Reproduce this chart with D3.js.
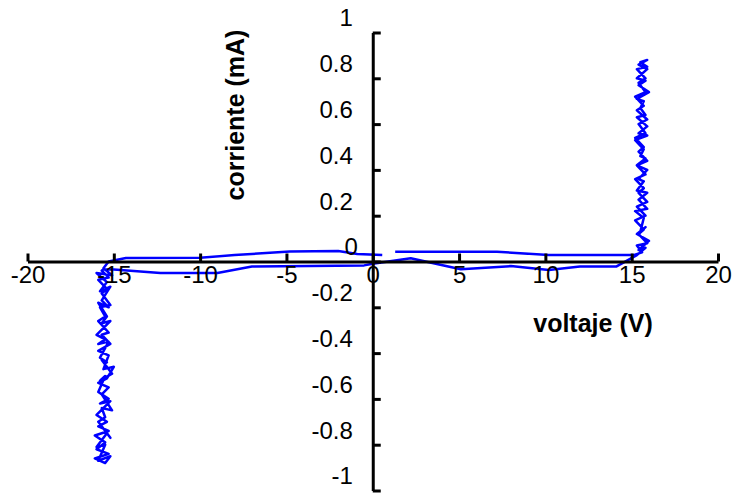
<!DOCTYPE html>
<html>
<head>
<meta charset="utf-8">
<script src="https://cdn.jsdelivr.net/npm/d3@7"></script>
<style>
  html, body { margin: 0; padding: 0; background: #fff; }
  svg { display: block; font-family: Arial, "Liberation Sans", sans-serif; }
</style>
</head>
<body>
<svg id="chart" width="733" height="493"></svg>
<script>
// ---- Data (voltage V, current mA) ----
const xTicks = [-20, -15, -10, -5, 0, 5, 10, 15, 20];
const yTicks = [-1, -0.8, -0.6, -0.4, -0.2, 0, 0.2, 0.4, 0.6, 0.8, 1];
const xTitle = "voltaje (V)";
const yTitle = "corriente (mA)";

// upper branch, negative side (traced right -> left)
const upperNeg = [[0.55,0.028],[-0.9,0.033],[-2,0.046],[-4.8,0.044],[-8,0.028],[-10,0.016],[-14.3,0.015],[-15.3,0.0]];
// breakdown region, negative side (down then up)
const vertNeg = [[-15.6,-0.03],[-15.1,-0.06],[-16.0,-0.05],[-15.4,-0.09],[-15.8,-0.13],[-15.2,-0.11],[-15.7,-0.17],[-15.3,-0.20],[-15.9,-0.18],[-15.4,-0.24],[-15.7,-0.27],[-15.2,-0.26],[-16.0,-0.32],[-15.5,-0.34],[-15.9,-0.36],[-15.3,-0.35],[-15.8,-0.42],[-15.4,-0.44],[-15.7,-0.43],[-15.1,-0.49],[-15.8,-0.52],[-15.5,-0.50],[-15.9,-0.57],[-15.3,-0.60],[-15.8,-0.62],[-15.2,-0.61],[-16.0,-0.67],[-15.4,-0.70],[-15.9,-0.72],[-15.3,-0.74],[-16.1,-0.76],[-15.5,-0.79],[-16.0,-0.82],[-15.3,-0.84],[-16.1,-0.86],[-15.5,-0.88],
  [-15.2,-0.85],[-15.9,-0.87],[-15.5,-0.80],[-16.0,-0.81],[-15.4,-0.75],[-15.2,-0.77],[-15.9,-0.70],[-15.5,-0.68],[-15.7,-0.64],[-15.1,-0.65],[-15.7,-0.58],[-15.3,-0.55],[-15.9,-0.53],[-15.4,-0.51],[-15.0,-0.46],[-15.6,-0.47],[-15.3,-0.41],[-15.9,-0.39],[-15.2,-0.36],[-15.7,-0.32],[-15.3,-0.31],[-15.9,-0.26],[-15.5,-0.24],[-15.8,-0.20],[-15.2,-0.19],[-15.7,-0.14],[-15.4,-0.12],[-15.9,-0.08],[-15.3,-0.07],[-15.7,-0.04]];
// lower branch (traced left -> right)
const lowerBranch = [[-15.6,-0.035],[-15.0,-0.035],[-12.3,-0.05],[-9,-0.05],[-7,-0.022],[-0.5,-0.017],[0,-0.01],[2.2,0.014],[5.1,-0.034],[8,-0.02],[10.2,-0.037],[12,-0.022],[14.1,-0.022],[15.3,0.028]];
// breakdown region, positive side (up then down)
const vertPos = [[15.8,0.06],[15.4,0.05],[16.0,0.09],[15.3,0.12],[15.8,0.15],[15.5,0.13],[15.7,0.19],[15.2,0.22],[15.9,0.23],[15.4,0.27],[15.9,0.30],[15.3,0.31],[15.7,0.35],[15.4,0.36],[15.9,0.40],[15.3,0.42],[15.8,0.45],[15.5,0.46],[15.7,0.49],[15.2,0.53],[15.9,0.55],[15.4,0.56],[15.9,0.59],[15.3,0.63],[15.8,0.64],[15.5,0.67],[15.7,0.70],[15.3,0.71],[16.0,0.74],[15.4,0.77],[15.8,0.79],[15.3,0.80],[15.9,0.84],[15.4,0.86],[15.9,0.88],[15.5,0.87],
  [15.9,0.85],[15.3,0.84],[15.8,0.80],[15.4,0.78],[15.8,0.74],[15.2,0.72],[15.7,0.68],[15.3,0.66],[15.9,0.62],[15.4,0.60],[15.8,0.56],[15.2,0.54],[15.7,0.50],[15.4,0.48],[15.9,0.44],[15.3,0.42],[15.8,0.38],[15.2,0.36],[15.7,0.32],[15.4,0.30],[15.9,0.26],[15.3,0.24],[15.8,0.20],[15.2,0.18],[15.7,0.14],[15.4,0.12],[15.9,0.08],[15.3,0.07],[15.6,0.04]];
// upper branch, positive side (traced right -> left)
const upperPos = [[15.1,0.028],[10.2,0.028],[7.2,0.043],[1.3,0.043]];

const trace = [].concat(upperNeg, vertNeg, lowerBranch, vertPos, upperPos);

// ---- Drawing ----
const svg = d3.select("#chart");
const x = d3.scaleLinear().domain([-20, 20]).range([27.5, 718]);
const y = d3.scaleLinear().domain([-1, 1]).range([490.5, 32.5]);

// data line
svg.append("path")
  .datum(trace)
  .attr("fill", "none")
  .attr("stroke", "#0000ff")
  .attr("stroke-width", 2.5)
  .attr("stroke-linejoin", "round")
  .attr("d", d3.line().x(d => x(d[0])).y(d => y(d[1])));

// x axis (ticks upward, labels below)
const xAxis = svg.append("g")
  .attr("transform", `translate(0,${y(0)})`)
  .call(d3.axisBottom(x).tickValues(xTicks).tickFormat(d => String(d))
        .tickSizeInner(-8).tickSizeOuter(0).tickPadding(4.5));
xAxis.select(".domain").attr("stroke", "#000").attr("stroke-width", 3);
xAxis.selectAll(".tick line").attr("stroke", "#000").attr("stroke-width", 3);
xAxis.selectAll(".tick text").attr("font-size", 24).attr("fill", "#000")
  .attr("font-family", "Arial, 'Liberation Sans', sans-serif");

// y axis (ticks rightward, labels left & shifted up)
const yAxis = svg.append("g")
  .attr("transform", `translate(${x(0)},0)`)
  .call(d3.axisRight(y).tickValues(yTicks).tickFormat(d => String(+d.toFixed(1)))
        .tickSizeInner(8).tickSizeOuter(0));
yAxis.select(".domain").attr("stroke", "#000").attr("stroke-width", 3);
yAxis.selectAll(".tick line").attr("stroke", "#000").attr("stroke-width", 3);
yAxis.selectAll(".tick text")
  .attr("font-size", 24).attr("fill", "#000")
  .attr("font-family", "Arial, 'Liberation Sans', sans-serif")
  .attr("text-anchor", "end")
  .attr("x", d => d === 0 ? -15 : -20)
  .attr("y", -15)
  .attr("dy", "0.35em");

// axis titles
svg.append("text")
  .attr("x", 593).attr("y", 332)
  .attr("text-anchor", "middle")
  .attr("font-size", 25).attr("font-weight", "bold")
  .text(xTitle);

svg.append("text")
  .attr("transform", "translate(244,115) rotate(-90)")
  .attr("text-anchor", "middle")
  .attr("font-size", 25).attr("font-weight", "bold")
  .text(yTitle);
</script>
</body>
</html>
